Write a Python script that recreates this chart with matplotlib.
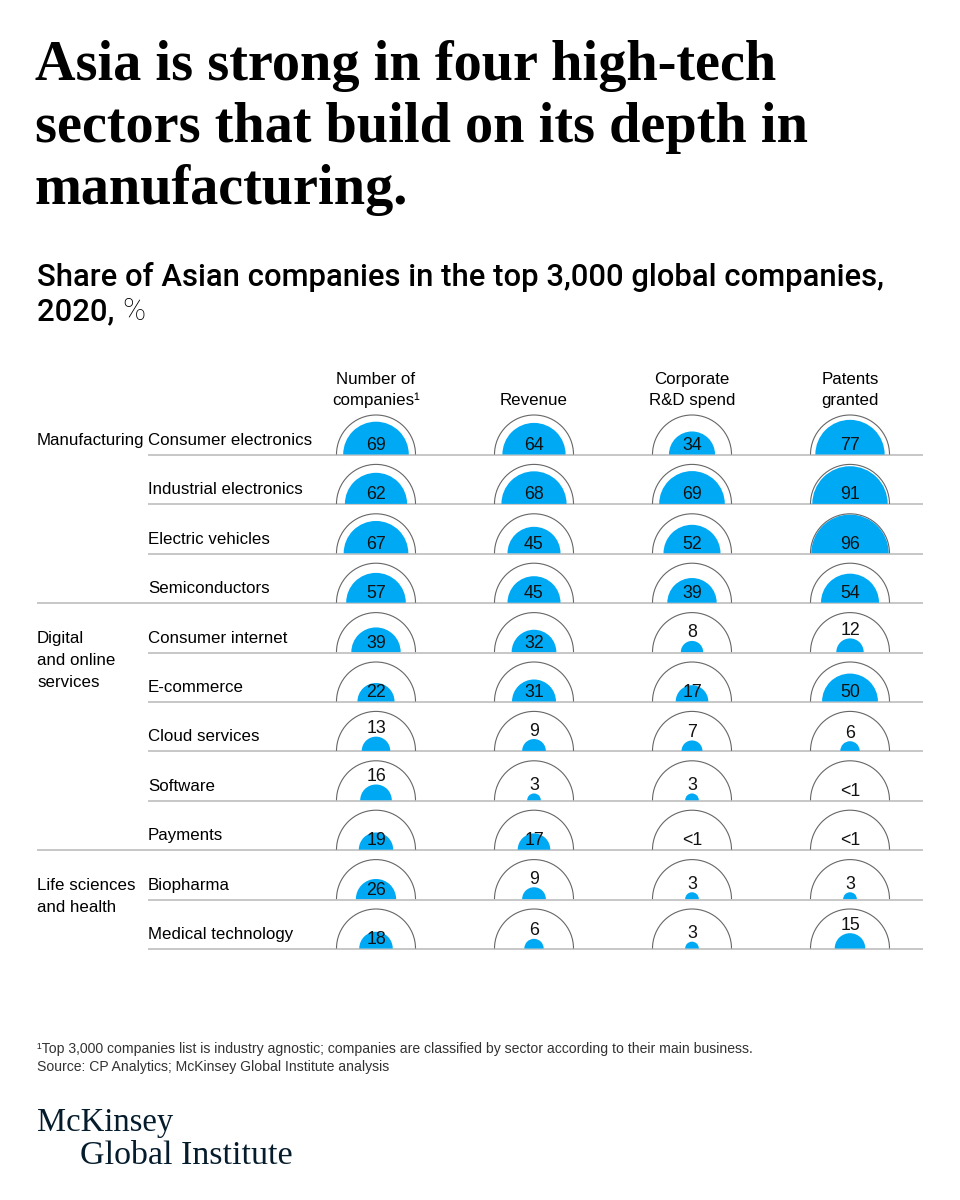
import matplotlib
matplotlib.use("Agg")
import matplotlib.pyplot as plt
from matplotlib.patches import Wedge, Arc
import numpy as np

# ---------------- data ----------------
sectors = ["Consumer electronics", "Industrial electronics", "Electric vehicles",
           "Semiconductors", "Consumer internet", "E-commerce", "Cloud services",
           "Software", "Payments", "Biopharma", "Medical technology"]
groups = ["Manufacturing", "Digital\nand online\nservices", "Life sciences\nand health"]
group_start = [0, 4, 9]
columns = ["Number of\ncompanies\u00b9", "Revenue", "Corporate\nR&D spend", "Patents\ngranted"]

# "<1" stored as 0.5
num_companies = [69, 62, 67, 57, 39, 22, 13, 16, 19, 26, 18]
revenue       = [64, 68, 45, 45, 32, 31, 9, 3, 17, 9, 6]
rnd_spend     = [34, 69, 52, 39, 8, 17, 7, 3, 0.5, 3, 3]
patents       = [77, 91, 96, 54, 12, 50, 6, 0.5, 0.5, 3, 15]
series = [num_companies, revenue, rnd_spend, patents]

# ---------------- layout ----------------
W, H = 960, 1200
fig = plt.figure(figsize=(W / 100, H / 100), dpi=100)
ax = fig.add_axes([0, 0, 1, 1])
ax.set_xlim(0, W)
ax.set_ylim(H, 0)
ax.axis("off")

BLUE = "#00A9F4"
SANS = ["Liberation Sans", "DejaVu Sans"]
SERIF = ["Liberation Serif", "DejaVu Serif"]
SUB = ["Roboto", "DejaVu Sans"]
FS = 12.2

x_left_group = 37
x_left_sector = 148
x_right = 923
col_x = [376, 534, 692, 850]
R = 39.5
row0 = 455
row_step = 49.4
rows_y = [row0 + i * row_step for i in range(len(sectors))]

# title
title_lines = ["Asia is strong in four high-tech",
               "sectors that build on its depth in",
               "manufacturing."]
for i, t in enumerate(title_lines):
    ax.text(x_left_group - 2, 80 + i * 62, t, fontsize=40.5, fontweight="bold",
            family=SERIF, va="baseline", ha="left", color="#000000")

# subtitle
ax.text(x_left_group, 286, "Share of Asian companies in the top 3,000 global companies,",
        fontsize=22.3, fontweight="medium", family=SUB,
        va="baseline", ha="left", color="#000000")
t1 = ax.text(x_left_group, 320, "2020, ", fontsize=22.3, fontweight="medium",
             family=SUB, va="baseline", ha="left", color="#000000")
fig.canvas.draw()
bb = t1.get_window_extent(renderer=fig.canvas.get_renderer())
ax.text(bb.x1, 320, "%", fontsize=22.3, fontweight="light",
        family=SUB, va="baseline", ha="left", color="#000000")

# column headers
for cx, name in zip(col_x, columns):
    lines = name.split("\n")
    for j, ln in enumerate(reversed(lines)):
        ax.text(cx, 405 - j * 21, ln, fontsize=FS, family=SANS,
                ha="center", va="baseline", color="#000000")

# group labels
for g, s in zip(groups, group_start):
    for j, ln in enumerate(g.split("\n")):
        ax.text(x_left_group, rows_y[s] - 10 + j * 22, ln, fontsize=FS,
                family=SANS, ha="left", va="baseline", color="#000000")

# rows
group_end_rows = [s - 1 for s in group_start[1:]]
for i, (name, y) in enumerate(zip(sectors, rows_y)):
    ax.text(x_left_sector, y - 10, name, fontsize=FS, family=SANS,
            ha="left", va="baseline", color="#000000")
    xl = x_left_group if i in group_end_rows else x_left_sector
    ax.plot([xl, x_right], [y, y], color="#bdbdbd", lw=1.2, solid_capstyle="butt", zorder=1)
    for cx, vals in zip(col_x, series):
        v = vals[i]
        r = R * np.sqrt(v / 100.0)
        if v >= 1:
            ax.add_patch(Wedge((cx, y - 0.5), r, 180, 360, facecolor=BLUE,
                               edgecolor="none", zorder=2))
        ax.add_patch(Arc((cx, y - 0.5), 2 * R, 2 * R, theta1=180, theta2=360,
                         color="#666666", lw=0.8, zorder=3))
        label = "<1" if v < 1 else f"{v:g}"
        if v >= 17 or v < 1:
            ty = y - 5
        else:
            ty = y - r - 4
        ax.text(cx, ty, label, fontsize=12.8, family=SANS, ha="center",
                va="baseline", color="#111111", zorder=4)

# footnotes
ax.text(x_left_group, 1053,
        "\u00b9Top 3,000 companies list is industry agnostic; companies are classified by sector according to their main business.",
        fontsize=10.1, family=SANS, ha="left", va="baseline", color="#333333")
ax.text(x_left_group, 1071, "Source: CP Analytics; McKinsey Global Institute analysis",
        fontsize=10.1, family=SANS, ha="left", va="baseline", color="#333333")

# logo
ax.text(x_left_group, 1131, "McKinsey", fontsize=23.5, family=SERIF,
        ha="left", va="baseline", color="#051C2C")
ax.text(80, 1164, "Global Institute", fontsize=24.5, family=SERIF,
        ha="left", va="baseline", color="#051C2C")

fig.savefig("out.png", dpi=100, facecolor="white")
